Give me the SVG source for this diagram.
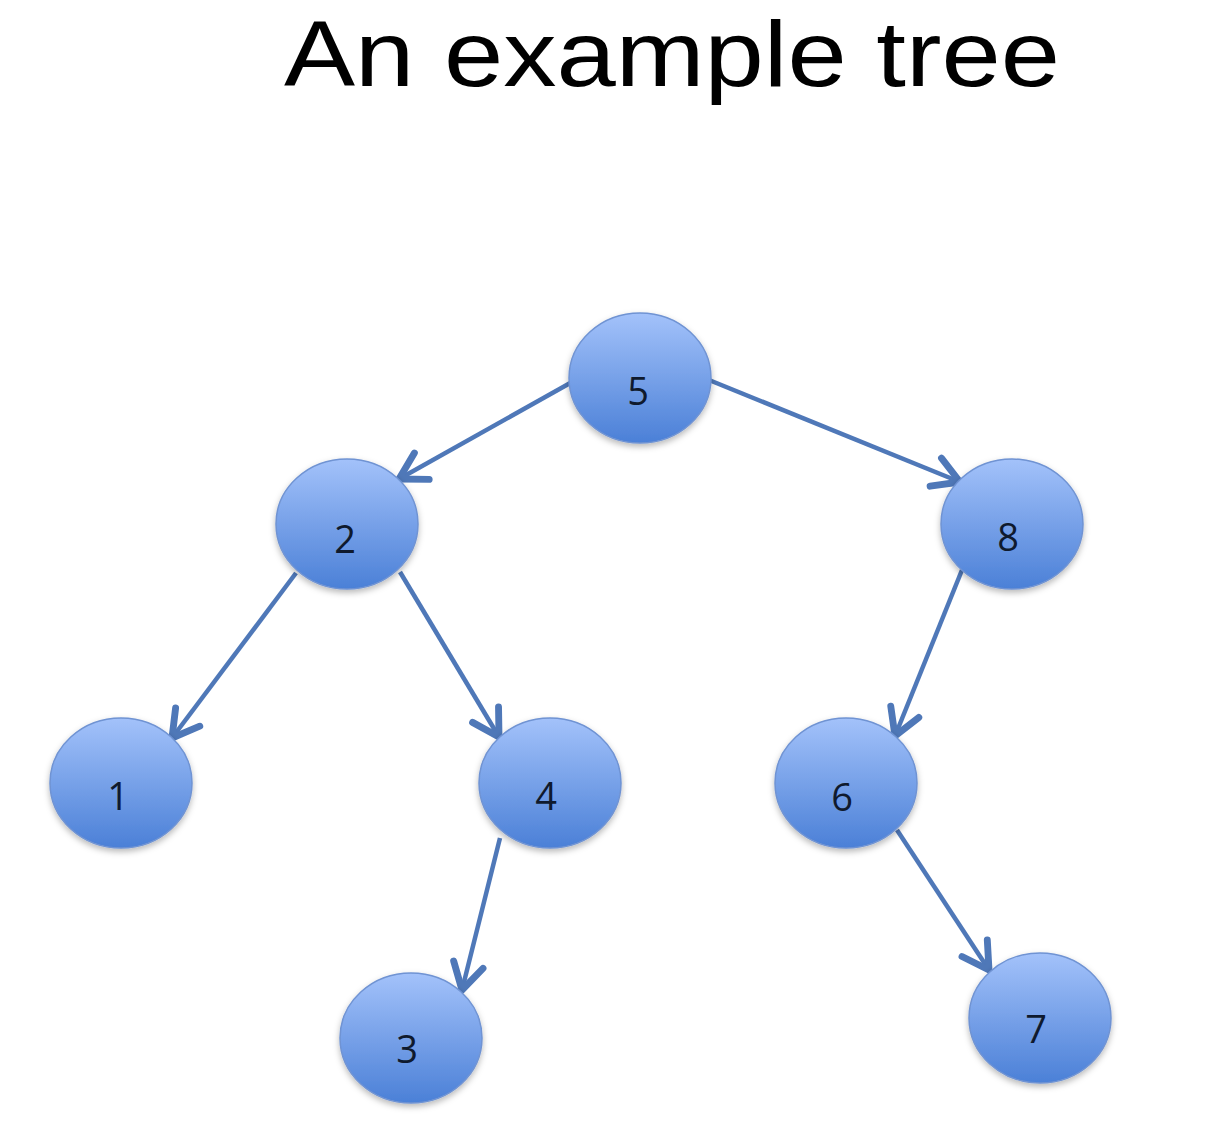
<svg xmlns="http://www.w3.org/2000/svg" width="1206" height="1134" viewBox="0 0 1206 1134">
<defs>
<linearGradient id="nodeGrad" x1="0" y1="0" x2="0" y2="1">
<stop offset="0" stop-color="#a3c2fa"/>
<stop offset="1" stop-color="#4b80d7"/>
</linearGradient>
<filter id="shadow" x="-20%" y="-20%" width="140%" height="150%">
<feDropShadow dx="0" dy="3" stdDeviation="3" flood-color="#000" flood-opacity="0.28"/>
</filter>
<marker id="arrow" markerUnits="userSpaceOnUse" markerWidth="44" markerHeight="44" viewBox="-27 -16 32 32" refX="0" refY="0" orient="auto">
<path d="M-19,-11 L0,0 L-19,11" fill="none" stroke="#4f78b8" stroke-width="5" stroke-linecap="round" stroke-linejoin="round"/>
</marker>
<style>
.node ellipse { fill: url(#nodeGrad); stroke: #6f93d3; stroke-width: 1.5; filter: url(#shadow); }
.node text { font-family: "Open Sans", "Liberation Sans", sans-serif; font-size: 38px; fill: #0f1a2e; text-anchor: middle; }
.edge { stroke: #4f78b8; stroke-width: 4.5; fill: none; marker-end: url(#arrow); }
.title { font-family: "Liberation Sans", "Open Sans", sans-serif; font-size: 92px; fill: #000; }
</style>
</defs>
<rect width="1206" height="1134" fill="#ffffff"/>
<text class="title" x="284" y="86" textLength="776" lengthAdjust="spacingAndGlyphs">An example tree</text>
<g id="connectors">
<line class="edge" x1="572" y1="382" x2="399" y2="479"/>
<line class="edge" x1="709" y1="380" x2="960" y2="482"/>
<line class="edge" x1="296" y1="573" x2="172" y2="738"/>
<line class="edge" x1="400" y1="572" x2="499" y2="737"/>
<line class="edge" x1="500" y1="838" x2="462" y2="990"/>
<line class="edge" x1="962" y1="570" x2="895" y2="736"/>
<line class="edge" x1="897" y1="830" x2="989" y2="970"/>
</g>
<g id="node5" class="node"><ellipse cx="640" cy="378" rx="71" ry="65"/><text x="638" y="405">5</text></g>
<g id="node2" class="node"><ellipse cx="347" cy="524" rx="71" ry="65"/><text x="345" y="553">2</text></g>
<g id="node8" class="node"><ellipse cx="1012" cy="524" rx="71" ry="65"/><text x="1008" y="551">8</text></g>
<g id="node1" class="node"><ellipse cx="121" cy="783" rx="71" ry="65"/><text x="118" y="810">1</text></g>
<g id="node4" class="node"><ellipse cx="550" cy="783" rx="71" ry="65"/><text x="546" y="810">4</text></g>
<g id="node6" class="node"><ellipse cx="846" cy="783" rx="71" ry="65"/><text x="842" y="811">6</text></g>
<g id="node3" class="node"><ellipse cx="411" cy="1038" rx="71" ry="65"/><text x="407" y="1063">3</text></g>
<g id="node7" class="node"><ellipse cx="1040" cy="1018" rx="71" ry="65"/><text x="1036" y="1043">7</text></g>
</svg>
